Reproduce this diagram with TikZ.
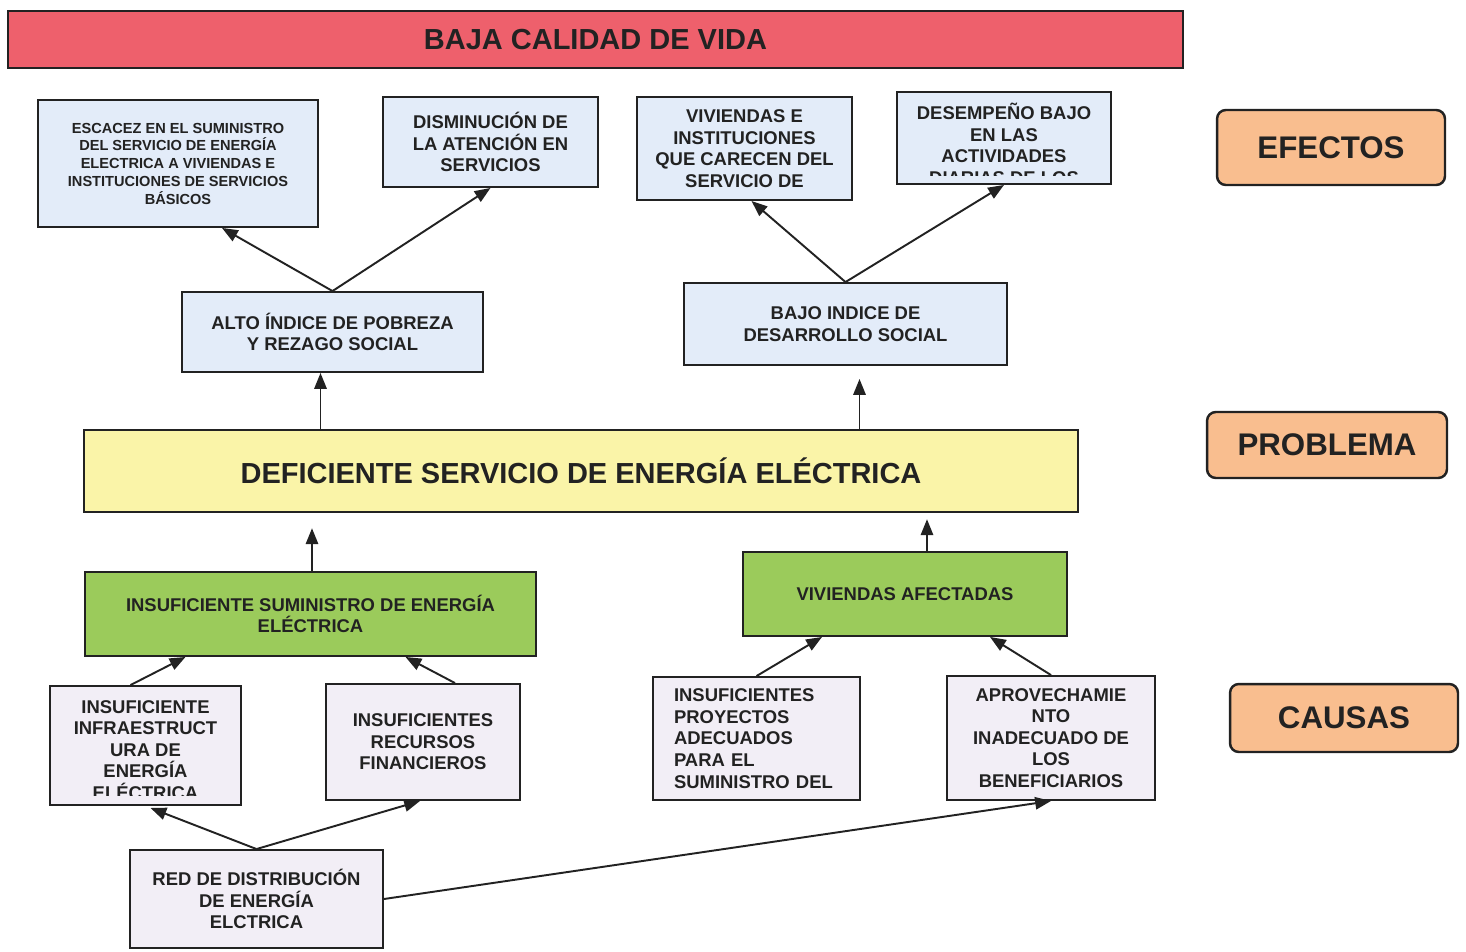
\documentclass[tikz,border=0pt]{standalone}
\usepackage{fontspec}
\setmainfont{Liberation Sans}
\usepackage{tikz}
\usetikzlibrary{calc}
\usetikzlibrary{arrows.meta}
\usepackage{xcolor}
\definecolor{rojo}{RGB}{238,96,108}
\definecolor{amarillo}{RGB}{250,244,168}
\definecolor{verde}{RGB}{155,203,91}
\definecolor{celeste}{RGB}{227,236,249}
\definecolor{lila}{RGB}{242,238,246}
\definecolor{naranja}{RGB}{249,190,143}
\definecolor{tinta}{RGB}{34,34,34}

\begin{document}
\begin{tikzpicture}[x=0.02cm,y=-0.02cm,
  caja/.style={draw=tinta,line width=1.1pt,inner sep=2pt,align=center,text=tinta,font=\bfseries\fontsize{10.5}{12.3}\selectfont},
  efecto/.style={caja,fill=celeste},
  causa/.style={caja,fill=lila},
  medio/.style={caja,fill=verde},
  franja/.style={draw=tinta,line width=1.4pt,text=tinta,font=\bfseries\fontsize{16.5}{19}\selectfont},
  etiqueta/.style={draw=tinta,line width=1.4pt,rounded corners=5pt,fill=naranja,text=tinta,font=\bfseries\fontsize{17.8}{20}\selectfont},
  flecha/.style={draw=tinta,line width=1.1pt,-{Triangle[length=9pt,width=7pt]}}]
\useasboundingbox (0,0) rectangle (1466,951);

\node[franja,fill=rojo] (titulo) at (595.5,39.5) [minimum width=23.5cm,minimum height=1.14cm] {BAJA CALIDAD DE VIDA};

\node[efecto,font=\bfseries\fontsize{8.3}{10.1}\selectfont] (e1) at (178,163.5) [minimum width=5.6cm,minimum height=2.54cm] {ESCACEZ EN EL SUMINISTRO\\DEL SERVICIO DE ENERGÍA\\ELECTRICA A VIVIENDAS E\\INSTITUCIONES DE SERVICIOS\\BÁSICOS};
\node[efecto] (e2) at (490.5,142) [minimum width=4.3cm,minimum height=1.8cm] {DISMINUCIÓN DE\\LA ATENCIÓN EN\\SERVICIOS};
\node[efecto] (e3) at (744.5,148.5) [minimum width=4.3cm,minimum height=2.06cm] {VIVIENDAS E\\INSTITUCIONES\\QUE CARECEN DEL\\SERVICIO DE};
\node[efecto] (e4) at (1004,138) [minimum width=4.28cm,minimum height=1.84cm] {};
\begin{scope}
\clip ($(e4.north west)+(2,2)$) rectangle ($(e4.south east)+(-2,-9)$);
\node[caja,draw=none] (t4) at (1004,144) {DESEMPEÑO BAJO\\EN LAS\\ACTIVIDADES\\DIARIAS DE LOS};
\end{scope}

\node[efecto] (m1) at (332.5,332) [minimum width=6.02cm,minimum height=1.6cm] {ALTO ÍNDICE DE POBREZA\\Y REZAGO SOCIAL};
\node[efecto] (m2) at (845.5,324) [minimum width=6.46cm,minimum height=1.64cm] {BAJO INDICE DE\\DESARROLLO SOCIAL};

\node[franja,fill=amarillo] (prob) at (581,471) [minimum width=19.88cm,minimum height=1.64cm] {DEFICIENTE SERVICIO DE ENERGÍA ELÉCTRICA};

\node[medio] (g1) at (310.5,614) [minimum width=9.02cm,minimum height=1.68cm] {INSUFICIENTE SUMINISTRO DE ENERGÍA\\ELÉCTRICA};
\node[medio] (g2) at (905,594) [minimum width=6.48cm,minimum height=1.68cm] {VIVIENDAS AFECTADAS};

\node[causa] (c1) at (145.5,745.5) [minimum width=3.82cm,minimum height=2.38cm] {};
\begin{scope}
\clip ($(c1.north west)+(2,2)$) rectangle ($(c1.south east)+(-2,-10)$);
\node[caja,draw=none] (t1) at (145.5,750) {INSUFICIENTE\\INFRAESTRUCT\\URA DE\\ENERGÍA\\ELÉCTRICA};
\end{scope}
\node[causa] (c2) at (423,742) [minimum width=3.88cm,minimum height=2.32cm] {INSUFICIENTES\\RECURSOS\\FINANCIEROS};
\node[causa,align=left,text width=3.3cm] (c3) at (756.5,738.5) [minimum width=4.14cm,minimum height=2.46cm] {INSUFICIENTES\\PROYECTOS\\ADECUADOS\\PARA EL\\SUMINISTRO DEL};
\node[causa] (c4) at (1051,738) [minimum width=4.16cm,minimum height=2.48cm] {APROVECHAMIE\\NTO\\INADECUADO DE\\LOS\\BENEFICIARIOS};

\node[causa] (raiz) at (256.5,899) [minimum width=5.06cm,minimum height=1.96cm] {RED DE DISTRIBUCIÓN\\DE ENERGÍA\\ELCTRICA};

\node[etiqueta] (efectos) at (1331,147.5) [minimum width=4.56cm,minimum height=1.5cm] {EFECTOS};
\node[etiqueta] (problema) at (1327,445) [minimum width=4.8cm,minimum height=1.32cm] {PROBLEMA};
\node[etiqueta] (causas) at (1344,718) [minimum width=4.56cm,minimum height=1.36cm] {CAUSAS};

\draw[flecha] (m1.north) -- ($(e1.south)+(44,0)$);
\draw[flecha] (m1.north) -- (e2.south);
\draw[flecha] (m2.north) -- ($(e3.south)+(7,0)$);
\draw[flecha] (m2.north) -- (e4.south);

\coordinate (p1) at ($(m1.south)+(-12,0)$);
\coordinate (p2) at ($(m2.south)+(14,13)$);
\coordinate (p3) at ($(prob.south)+(-269,15)$);
\coordinate (p4) at ($(prob.south)+(346,6)$);
\draw[flecha] (p1 |- prob.north) -- (p1);
\draw[flecha] (p2 |- prob.north) -- (p2);
\draw[flecha] (p3 |- g1.north) -- (p3);
\draw[flecha] (p4 |- g2.north) -- (p4);

\draw[flecha] ($(c1.north)+(-15,0)$) -- ($(g1.south)+(-125,0)$);
\draw[flecha] ($(c2.north)+(32,0)$) -- ($(g1.south)+(95,0)$);
\draw[flecha] (c3.north) -- ($(g2.south)+(-83,0)$);
\draw[flecha] (c4.north) -- ($(g2.south)+(85,0)$);
\draw[flecha] (raiz.north) -- ($(c1.south)+(5,2)$);
\draw[flecha] (raiz.north) -- ($(c2.south)+(-3,0)$);
\draw[flecha] (raiz.east) -- (c4.south);
\end{tikzpicture}
\end{document}
